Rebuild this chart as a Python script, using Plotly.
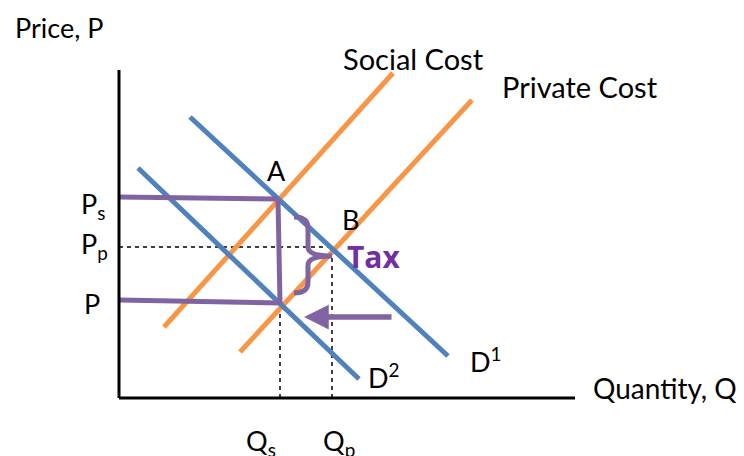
import plotly.graph_objects as go

# ---- data (chart units, origin at axes corner) ----
social_cost_x = [45, 274]
social_cost_y = [71, 325]
private_cost_x = [121, 353]
private_cost_y = [46, 298]
d1_x = [71, 329]
d1_y = [281, 42]
d2_x = [19, 240]
d2_y = [230, 19]
Ps = 201
Pp = 151
P_low = 96
Qs = 161
Qp = 213
A_x = 159
x_axis_len = 456
y_axis_len = 328
arrow_from_x = 274
arrow_to_x = 185
arrow_y = 81

BLUE = "#4F81BD"
ORANGE = "#F79646"
PURPLE = "#8064A2"
TAXC = "#7030A0"
FONT = "Lato"
FS = 27

fig = go.Figure()

def line(xs, ys, color, width, dash=None):
    fig.add_trace(go.Scatter(x=xs, y=ys, mode="lines",
                             line=dict(color=color, width=width, dash=dash),
                             hoverinfo="skip", showlegend=False))

# dashed guides
line([0, Qp], [Pp, Pp], "black", 1.5, "4px,4px")
line([Qs, Qs], [0, P_low], "black", 1.5, "4px,4px")
line([Qp, Qp], [0, Pp], "black", 1.5, "4px,4px")

# supply curves
line(social_cost_x, social_cost_y, ORANGE, 5)
line(private_cost_x, private_cost_y, ORANGE, 5)
# demand curves
line(d1_x, d1_y, BLUE, 5)
line(d2_x, d2_y, BLUE, 5)

# purple price lines
line([0, A_x], [Ps, Ps - 2], PURPLE, 5)
line([0, Qs], [P_low + 2, P_low - 1], PURPLE, 5)
line([A_x, Qs], [Ps - 2, P_low - 1], PURPLE, 5)

# axes
line([0, 0], [0, y_axis_len], "black", 3)
line([0, x_axis_len], [0, 0], "black", 3)

# brace (derived from the price levels)
bx0 = A_x + 16
bx1 = bx0 + 14
top = Ps - 20
bot = P_low + 9
mid = Pp - 9
tip = Qp
path = (f"M {bx0},{top} Q {bx1},{top} {bx1},{top-11} L {bx1},{mid+9} "
        f"Q {bx1},{mid} {tip},{mid} Q {bx1},{mid} {bx1},{mid-9} "
        f"L {bx1},{bot+11} Q {bx1},{bot} {bx0},{bot}")
fig.add_shape(type="path", path=path, xref="x", yref="y",
              line=dict(color=PURPLE, width=5))

# arrow
fig.add_annotation(x=arrow_to_x, y=arrow_y, ax=arrow_from_x, ay=arrow_y,
                   xref="x", yref="y", axref="x", ayref="y", text="",
                   showarrow=True, arrowhead=2, arrowsize=0.9, arrowwidth=5.5,
                   arrowcolor=PURPLE)

def label(x, y, text, xanchor="left", color="black", size=FS, family=FONT):
    fig.add_annotation(x=x, y=y, text=text, showarrow=False, xref="x", yref="y",
                       xanchor=xanchor, yanchor="middle",
                       font=dict(family=family, size=size, color=color))

label(-106, 371, "Price, P")
label(472, 10, "Quantity, Q", size=28)
label(222, 340, "Social Cost", size=29)
label(381, 312, "Private Cost", size=29)
label(157, 228, "A", "center")
label(231, 179, "B", "center")
label(226, 142, "<b>Tax</b>", color=TAXC, size=30, family="Open Sans")
label(-40, 193, "P<sub>s</sub>")
label(-40, 153, "P<sub>p</sub>")
label(-37, 95, "P")
label(247, 22, "D<sup>2</sup>")
label(349, 38, "D<sup>1</sup>")
label(125, -44, "Q<sub>s</sub>")
label(202, -44, "Q<sub>p</sub>")

# the page body adds an 8px offset; shift ranges so the axes corner lands at (119, 398)
fig.update_layout(
    width=744, height=456,
    margin=dict(l=0, r=0, t=0, b=0),
    plot_bgcolor="white", paper_bgcolor="white",
    xaxis=dict(range=[-111, 633], visible=False, fixedrange=True),
    yaxis=dict(range=[-66, 390], visible=False, fixedrange=True),
)

fig.write_html("out.html")
